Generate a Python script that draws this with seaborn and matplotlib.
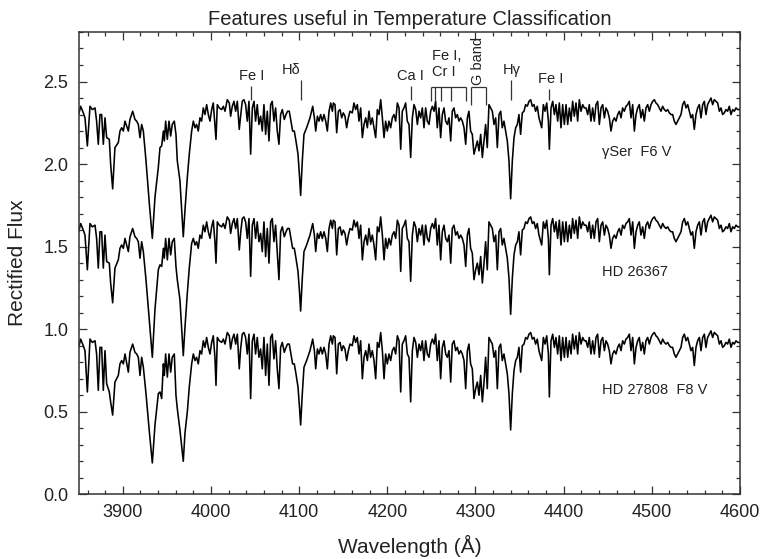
import matplotlib
matplotlib.use('Agg')
import matplotlib.pyplot as plt
from matplotlib.ticker import MultipleLocator, FormatStrFormatter
import seaborn as sns

# 波长 (Å)，三条光谱共用
wavelength = [
    3850.0, 3852.2, 3855.2, 3857.1, 3859.8, 3862.8, 3865.4, 3868.5, 3870.3, 3872.2,
    3874.1, 3876.0, 3877.9, 3879.8, 3881.7, 3884.7, 3886.2, 3888.5, 3891.1, 3894.9,
    3896.8, 3898.7, 3900.6, 3902.5, 3906.3, 3908.1, 3911.2, 3913.8, 3915.7, 3917.6,
    3919.5, 3921.4, 3923.3, 3926.3, 3930.1, 3933.5, 3936.5, 3940.3, 3942.2, 3944.1,
    3946.0, 3947.1, 3948.6, 3950.5, 3952.4, 3954.3, 3956.1, 3958.4, 3960.3, 3961.8,
    3964.8, 3968.6, 3970.5, 3973.2, 3975.4, 3978.1, 3980.0, 3981.9, 3983.7, 3985.6,
    3987.5, 3989.4, 3991.3, 3993.2, 3995.1, 3997.0, 3998.9, 4000.8, 4002.6, 4004.5,
    4005.7, 4007.2, 4009.4, 4012.1, 4014.0, 4015.9, 4018.5, 4020.8, 4022.3, 4024.2,
    4026.1, 4028.0, 4029.9, 4032.1, 4033.6, 4035.5, 4037.4, 4039.3, 4041.2, 4043.1,
    4045.0, 4046.9, 4048.8, 4050.6, 4052.5, 4054.4, 4056.3, 4058.2, 4060.1, 4062.0,
    4063.9, 4065.8, 4067.7, 4069.5, 4071.4, 4073.3, 4075.2, 4077.1, 4079.0, 4080.9,
    4083.2, 4085.1, 4086.9, 4088.8, 4090.7, 4092.6, 4094.5, 4096.4, 4098.7, 4100.5,
    4101.7, 4103.6, 4105.5, 4108.5, 4112.3, 4115.4, 4117.3, 4118.8, 4120.7, 4122.5,
    4124.4, 4126.3, 4128.2, 4130.1, 4132.0, 4133.9, 4135.8, 4137.7, 4138.8, 4140.7,
    4142.6, 4144.5, 4146.4, 4148.3, 4150.1, 4152.0, 4153.9, 4155.8, 4157.7, 4160.3,
    4162.2, 4164.1, 4166.0, 4167.9, 4169.8, 4171.7, 4173.6, 4175.5, 4177.4, 4179.2,
    4181.1, 4183.0, 4184.9, 4186.8, 4188.7, 4190.6, 4192.5, 4194.4, 4196.3, 4198.1,
    4200.0, 4201.9, 4203.8, 4205.7, 4207.6, 4209.5, 4211.4, 4213.3, 4215.2, 4217.0,
    4218.9, 4220.8, 4222.7, 4224.6, 4226.5, 4228.4, 4230.3, 4232.2, 4234.1, 4236.0,
    4237.8, 4239.7, 4241.6, 4243.5, 4245.4, 4247.3, 4249.2, 4251.1, 4253.0, 4254.8,
    4256.7, 4258.6, 4260.5, 4262.4, 4264.3, 4266.2, 4268.1, 4270.0, 4271.9, 4273.7,
    4275.6, 4277.5, 4279.4, 4281.3, 4283.2, 4285.1, 4287.0, 4288.9, 4290.8, 4292.6,
    4294.5, 4296.4, 4298.3, 4300.2, 4302.1, 4304.0, 4305.9, 4307.8, 4309.7, 4311.5,
    4313.4, 4315.3, 4317.2, 4319.1, 4321.0, 4322.9, 4324.8, 4326.7, 4328.6, 4330.4,
    4332.3, 4334.2, 4336.1, 4338.0, 4339.9, 4341.8, 4343.7, 4345.6, 4347.5, 4349.3,
    4351.2, 4353.1, 4355.0, 4356.9, 4358.8, 4360.7, 4362.6, 4364.5, 4366.4, 4368.2,
    4370.1, 4372.0, 4375.1, 4377.0, 4378.9, 4380.8, 4382.7, 4383.8, 4385.7, 4387.6,
    4389.5, 4391.3, 4393.2, 4395.1, 4397.0, 4398.9, 4400.8, 4402.7, 4404.6, 4406.5,
    4408.4, 4410.2, 4412.1, 4414.0, 4415.9, 4417.8, 4419.7, 4421.6, 4423.5, 4425.4,
    4427.3, 4429.1, 4431.0, 4432.9, 4434.8, 4436.7, 4438.6, 4440.5, 4442.4, 4444.3,
    4446.2, 4448.0, 4449.9, 4451.8, 4453.7, 4455.6, 4457.5, 4459.4, 4461.3, 4463.2,
    4465.1, 4466.9, 4468.8, 4470.7, 4472.6, 4474.5, 4476.4, 4478.3, 4480.2, 4482.1,
    4484.0, 4485.8, 4487.7, 4489.6, 4491.5, 4493.4, 4495.3, 4497.2, 4499.1, 4501.0,
    4502.9, 4504.7, 4506.6, 4508.5, 4510.4, 4512.3, 4514.2, 4516.1, 4518.0, 4519.9,
    4521.8, 4523.6, 4525.5, 4527.4, 4529.3, 4531.2, 4533.1, 4535.0, 4536.9, 4538.8,
    4540.7, 4542.5, 4544.4, 4546.3, 4548.2, 4550.1, 4552.0, 4553.9, 4555.8, 4557.7,
    4559.6, 4561.4, 4563.3, 4565.2, 4567.1, 4569.0, 4570.9, 4572.8, 4574.7, 4576.6,
    4578.5, 4580.3, 4582.2, 4584.1, 4586.0, 4587.9, 4589.8, 4591.7, 4593.6, 4595.5,
    4597.4, 4600.0,
]

# gamma Ser  F6 V
flux_gamma_ser = [
    2.30, 2.35, 2.31, 2.28, 2.11, 2.35, 2.33, 2.34, 2.26, 2.12,
    2.30, 2.30, 2.12, 2.28, 2.16, 2.15, 2.00, 1.85, 2.10, 2.13,
    2.20, 2.22, 2.20, 2.26, 2.20, 2.27, 2.32, 2.27, 2.26, 2.24,
    2.16, 2.24, 2.20, 2.02, 1.76, 1.55, 1.80, 1.98, 2.10, 2.11,
    2.20, 2.14, 2.26, 2.15, 2.26, 2.17, 2.24, 2.26, 2.18, 2.02,
    1.90, 1.56, 1.72, 1.92, 2.06, 2.20, 2.26, 2.22, 2.24, 2.20,
    2.28, 2.26, 2.34, 2.30, 2.36, 2.30, 2.26, 2.33, 2.37, 2.24,
    2.15, 2.36, 2.34, 2.33, 2.35, 2.32, 2.39, 2.37, 2.29, 2.35,
    2.38, 2.32, 2.38, 2.21, 2.29, 2.38, 2.39, 2.36, 2.26, 2.38,
    2.06, 2.34, 2.38, 2.26, 2.36, 2.24, 2.29, 2.20, 2.36, 2.18,
    2.32, 2.14, 2.36, 2.38, 2.26, 2.34, 2.20, 2.12, 2.30, 2.33,
    2.27, 2.30, 2.32, 2.32, 2.26, 2.20, 2.20, 2.14, 2.06, 1.92,
    1.81, 2.02, 2.18, 2.22, 2.28, 2.35, 2.28, 2.20, 2.29, 2.26,
    2.30, 2.26, 2.30, 2.26, 2.20, 2.32, 2.37, 2.32, 2.37, 2.36,
    2.19, 2.32, 2.33, 2.28, 2.31, 2.29, 2.22, 2.28, 2.32, 2.31,
    2.37, 2.33, 2.36, 2.26, 2.34, 2.16, 2.24, 2.28, 2.22, 2.32,
    2.24, 2.28, 2.22, 2.16, 2.33, 2.30, 2.39, 2.28, 2.16, 2.26,
    2.20, 2.26, 2.22, 2.28, 2.30, 2.26, 2.37, 2.34, 2.09, 2.32,
    2.34, 2.37, 2.26, 2.24, 2.04, 2.28, 2.36, 2.33, 2.24, 2.32,
    2.28, 2.34, 2.22, 2.34, 2.26, 2.24, 2.32, 2.35, 2.32, 2.38,
    2.22, 2.34, 2.16, 2.30, 2.34, 2.26, 2.24, 2.28, 2.14, 2.32,
    2.34, 2.28, 2.30, 2.26, 2.28, 2.26, 2.22, 2.12, 2.28, 2.32,
    2.20, 2.18, 2.06, 2.10, 2.14, 2.08, 2.18, 2.04, 2.14, 2.24,
    2.10, 2.36, 2.34, 2.32, 2.24, 2.28, 2.10, 2.30, 2.32, 2.22,
    2.26, 2.20, 2.14, 2.02, 1.79, 2.02, 2.16, 2.22, 2.24, 2.30,
    2.18, 2.31, 2.32, 2.36, 2.35, 2.38, 2.39, 2.35, 2.36, 2.32,
    2.35, 2.28, 2.22, 2.36, 2.32, 2.37, 2.26, 2.09, 2.34, 2.38,
    2.30, 2.36, 2.26, 2.37, 2.22, 2.36, 2.24, 2.36, 2.24, 2.34,
    2.26, 2.38, 2.29, 2.37, 2.26, 2.39, 2.32, 2.36, 2.34, 2.34,
    2.30, 2.36, 2.26, 2.34, 2.26, 2.36, 2.38, 2.24, 2.34, 2.36,
    2.28, 2.34, 2.32, 2.28, 2.20, 2.26, 2.28, 2.26, 2.30, 2.32,
    2.28, 2.34, 2.32, 2.35, 2.36, 2.38, 2.28, 2.36, 2.20, 2.30,
    2.34, 2.36, 2.28, 2.33, 2.26, 2.34, 2.36, 2.32, 2.36, 2.38,
    2.39, 2.37, 2.36, 2.34, 2.32, 2.35, 2.33, 2.32, 2.33, 2.31,
    2.30, 2.30, 2.26, 2.24, 2.26, 2.28, 2.30, 2.36, 2.38, 2.34,
    2.36, 2.32, 2.28, 2.30, 2.21, 2.30, 2.34, 2.36, 2.28, 2.36,
    2.38, 2.30, 2.36, 2.38, 2.40, 2.36, 2.39, 2.38, 2.37, 2.32,
    2.34, 2.30, 2.31, 2.33, 2.32, 2.35, 2.30, 2.33, 2.32, 2.34,
    2.33, 2.33,
]

# HD 26367
flux_hd26367 = [
    1.59, 1.64, 1.60, 1.57, 1.36, 1.64, 1.62, 1.63, 1.55, 1.37,
    1.59, 1.59, 1.37, 1.57, 1.41, 1.40, 1.28, 1.16, 1.37, 1.42,
    1.49, 1.51, 1.49, 1.55, 1.47, 1.56, 1.61, 1.56, 1.55, 1.53,
    1.43, 1.53, 1.47, 1.30, 1.05, 0.83, 1.12, 1.36, 1.39, 1.38,
    1.49, 1.43, 1.55, 1.42, 1.55, 1.45, 1.53, 1.55, 1.38, 1.30,
    1.18, 0.84, 1.01, 1.22, 1.37, 1.52, 1.55, 1.51, 1.53, 1.49,
    1.57, 1.55, 1.63, 1.59, 1.65, 1.59, 1.55, 1.62, 1.66, 1.53,
    1.40, 1.65, 1.63, 1.62, 1.64, 1.61, 1.68, 1.66, 1.58, 1.64,
    1.67, 1.61, 1.67, 1.48, 1.58, 1.67, 1.68, 1.65, 1.55, 1.67,
    1.32, 1.63, 1.67, 1.55, 1.65, 1.53, 1.58, 1.47, 1.65, 1.44,
    1.61, 1.40, 1.65, 1.67, 1.53, 1.63, 1.47, 1.30, 1.59, 1.62,
    1.56, 1.59, 1.61, 1.61, 1.55, 1.49, 1.49, 1.43, 1.35, 1.22,
    1.11, 1.31, 1.47, 1.51, 1.57, 1.64, 1.57, 1.47, 1.58, 1.55,
    1.59, 1.55, 1.59, 1.55, 1.47, 1.61, 1.66, 1.61, 1.66, 1.65,
    1.45, 1.61, 1.62, 1.57, 1.60, 1.58, 1.51, 1.57, 1.61, 1.60,
    1.66, 1.62, 1.65, 1.55, 1.63, 1.42, 1.53, 1.57, 1.51, 1.61,
    1.53, 1.57, 1.51, 1.42, 1.62, 1.59, 1.68, 1.57, 1.42, 1.55,
    1.49, 1.55, 1.51, 1.57, 1.59, 1.55, 1.66, 1.63, 1.35, 1.61,
    1.63, 1.66, 1.55, 1.53, 1.29, 1.57, 1.65, 1.62, 1.53, 1.61,
    1.57, 1.63, 1.51, 1.63, 1.55, 1.53, 1.61, 1.64, 1.61, 1.67,
    1.51, 1.63, 1.42, 1.59, 1.63, 1.55, 1.53, 1.57, 1.40, 1.61,
    1.63, 1.57, 1.59, 1.55, 1.57, 1.55, 1.51, 1.38, 1.57, 1.61,
    1.49, 1.46, 1.30, 1.36, 1.40, 1.33, 1.44, 1.28, 1.40, 1.53,
    1.36, 1.65, 1.63, 1.61, 1.53, 1.57, 1.36, 1.59, 1.61, 1.51,
    1.55, 1.49, 1.43, 1.31, 1.09, 1.31, 1.45, 1.51, 1.53, 1.59,
    1.45, 1.60, 1.61, 1.65, 1.64, 1.67, 1.68, 1.64, 1.65, 1.61,
    1.64, 1.57, 1.51, 1.65, 1.61, 1.66, 1.55, 1.33, 1.63, 1.67,
    1.59, 1.65, 1.55, 1.66, 1.51, 1.65, 1.53, 1.65, 1.53, 1.63,
    1.55, 1.67, 1.58, 1.66, 1.55, 1.68, 1.61, 1.65, 1.63, 1.63,
    1.59, 1.65, 1.55, 1.63, 1.55, 1.65, 1.67, 1.53, 1.63, 1.65,
    1.57, 1.63, 1.61, 1.57, 1.49, 1.55, 1.57, 1.55, 1.59, 1.61,
    1.57, 1.63, 1.61, 1.64, 1.65, 1.67, 1.57, 1.65, 1.49, 1.59,
    1.63, 1.65, 1.57, 1.62, 1.55, 1.63, 1.65, 1.61, 1.65, 1.67,
    1.68, 1.66, 1.65, 1.63, 1.61, 1.64, 1.62, 1.61, 1.62, 1.60,
    1.59, 1.59, 1.55, 1.53, 1.55, 1.57, 1.59, 1.65, 1.67, 1.63,
    1.65, 1.61, 1.57, 1.59, 1.49, 1.59, 1.63, 1.65, 1.57, 1.65,
    1.67, 1.59, 1.65, 1.67, 1.69, 1.65, 1.68, 1.67, 1.66, 1.61,
    1.63, 1.59, 1.60, 1.62, 1.61, 1.64, 1.59, 1.62, 1.61, 1.63,
    1.62, 1.62,
]

# HD 27808  F8 V
flux_hd27808 = [
    0.89, 0.94, 0.90, 0.87, 0.62, 0.94, 0.92, 0.93, 0.85, 0.63,
    0.89, 0.89, 0.63, 0.87, 0.67, 0.62, 0.56, 0.48, 0.68, 0.72,
    0.79, 0.81, 0.79, 0.85, 0.74, 0.86, 0.91, 0.86, 0.85, 0.83,
    0.72, 0.83, 0.77, 0.61, 0.38, 0.19, 0.42, 0.61, 0.62, 0.58,
    0.79, 0.72, 0.85, 0.71, 0.85, 0.74, 0.83, 0.85, 0.60, 0.52,
    0.39, 0.20, 0.37, 0.50, 0.65, 0.79, 0.85, 0.81, 0.83, 0.79,
    0.87, 0.85, 0.93, 0.89, 0.95, 0.89, 0.85, 0.92, 0.96, 0.83,
    0.66, 0.95, 0.93, 0.92, 0.94, 0.91, 0.98, 0.96, 0.88, 0.94,
    0.97, 0.91, 0.97, 0.76, 0.88, 0.97, 0.98, 0.95, 0.85, 0.97,
    0.58, 0.93, 0.97, 0.85, 0.95, 0.83, 0.88, 0.76, 0.95, 0.72,
    0.91, 0.66, 0.95, 0.97, 0.82, 0.93, 0.76, 0.64, 0.89, 0.92,
    0.86, 0.89, 0.91, 0.91, 0.85, 0.79, 0.79, 0.73, 0.65, 0.52,
    0.42, 0.61, 0.77, 0.81, 0.87, 0.94, 0.87, 0.76, 0.88, 0.85,
    0.89, 0.85, 0.89, 0.85, 0.76, 0.91, 0.96, 0.91, 0.96, 0.95,
    0.73, 0.91, 0.92, 0.87, 0.90, 0.88, 0.81, 0.87, 0.91, 0.90,
    0.96, 0.92, 0.95, 0.85, 0.93, 0.70, 0.83, 0.87, 0.81, 0.91,
    0.83, 0.87, 0.81, 0.70, 0.92, 0.89, 0.98, 0.87, 0.70, 0.85,
    0.79, 0.85, 0.81, 0.87, 0.89, 0.85, 0.96, 0.93, 0.62, 0.91,
    0.93, 0.96, 0.85, 0.83, 0.56, 0.87, 0.95, 0.92, 0.83, 0.91,
    0.87, 0.93, 0.81, 0.93, 0.85, 0.83, 0.91, 0.94, 0.91, 0.97,
    0.81, 0.93, 0.70, 0.89, 0.93, 0.85, 0.83, 0.87, 0.68, 0.91,
    0.93, 0.87, 0.89, 0.85, 0.87, 0.85, 0.81, 0.64, 0.87, 0.91,
    0.79, 0.76, 0.58, 0.64, 0.68, 0.60, 0.72, 0.56, 0.68, 0.83,
    0.64, 0.95, 0.93, 0.91, 0.83, 0.87, 0.64, 0.89, 0.91, 0.81,
    0.85, 0.79, 0.73, 0.61, 0.39, 0.61, 0.75, 0.81, 0.83, 0.89,
    0.74, 0.90, 0.91, 0.95, 0.94, 0.97, 0.98, 0.94, 0.95, 0.91,
    0.94, 0.87, 0.81, 0.95, 0.91, 0.96, 0.85, 0.59, 0.93, 0.97,
    0.89, 0.95, 0.85, 0.96, 0.81, 0.95, 0.83, 0.95, 0.83, 0.93,
    0.85, 0.97, 0.88, 0.96, 0.85, 0.98, 0.91, 0.95, 0.93, 0.93,
    0.89, 0.95, 0.85, 0.93, 0.85, 0.95, 0.97, 0.83, 0.93, 0.95,
    0.87, 0.93, 0.91, 0.87, 0.79, 0.85, 0.87, 0.85, 0.89, 0.91,
    0.87, 0.93, 0.91, 0.94, 0.95, 0.97, 0.87, 0.95, 0.79, 0.89,
    0.93, 0.95, 0.87, 0.92, 0.85, 0.93, 0.95, 0.91, 0.95, 0.97,
    0.98, 0.96, 0.95, 0.93, 0.91, 0.94, 0.92, 0.91, 0.92, 0.90,
    0.89, 0.89, 0.85, 0.83, 0.85, 0.87, 0.89, 0.95, 0.97, 0.93,
    0.95, 0.91, 0.87, 0.89, 0.78, 0.89, 0.93, 0.95, 0.87, 0.95,
    0.97, 0.89, 0.95, 0.97, 0.99, 0.95, 0.98, 0.97, 0.96, 0.91,
    0.93, 0.89, 0.90, 0.92, 0.91, 0.94, 0.89, 0.92, 0.91, 0.93,
    0.92, 0.92,
]

star_labels = ['\u03b3Ser  F6 V', 'HD 26367', 'HD 27808  F8 V']

# 单条谱线标注
line_labels = ['Fe I', 'H\u03b4', 'Ca I', 'H\u03b3', 'Fe I']
line_waves = [4045.8, 4101.7, 4226.7, 4340.3, 4383.5]
# Fe I / Cr I 线组和 G band
fecr_waves = [4250.1, 4254.3, 4260.5, 4271.8, 4289.0]
gband_range = [4295.0, 4311.5]


sns.set_theme(style='ticks')
plt.rcParams['font.family'] = ['Liberation Sans', 'DejaVu Sans']

fig = plt.figure(figsize=(7.62, 5.59), dpi=100)
ax = fig.add_axes([0.1033, 0.1157, 0.8678, 0.8271])

for flux in (flux_gamma_ser, flux_hd26367, flux_hd27808):
    sns.lineplot(x=wavelength, y=flux, ax=ax, color='black', linewidth=1.15,
                 estimator=None, sort=False, legend=False)

ax.set_xlim(3850, 4600)
ax.set_ylim(0, 2.8)
ax.xaxis.set_major_locator(MultipleLocator(100))
ax.xaxis.set_minor_locator(MultipleLocator(20))
ax.yaxis.set_major_locator(MultipleLocator(0.5))
ax.yaxis.set_minor_locator(MultipleLocator(0.1))
ax.yaxis.set_major_formatter(FormatStrFormatter('%.1f'))

axis_color = '#333333'
ax.tick_params(which='both', direction='in', top=True, right=True,
               color=axis_color, width=0.9, labelsize=13, labelcolor='#222222')
ax.tick_params(which='major', length=5.5)
ax.tick_params(which='minor', length=3.2)
ax.tick_params(axis='x', pad=7)
ax.tick_params(axis='y', pad=7.5)
for sp in ax.spines.values():
    sp.set_color(axis_color)
    sp.set_linewidth(1.1)

ax.set_xlabel('Wavelength (\u00c5)', fontsize=15, labelpad=10, color='#222222')
ax.set_ylabel('Rectified Flux', fontsize=15, labelpad=12, color='#222222')
ax.set_title('Features useful in Temperature Classification', fontsize=14.5,
             pad=5, color='#222222')

# 标注文字与短竖线
txt_kw = dict(fontsize=10.5, color='#222222')
label_x = [4046, 4091, 4226, 4341, 4385]
label_y = [2.51, 2.545, 2.51, 2.547, 2.49]
for lab, w, lx, ly in zip(line_labels, line_waves, label_x, label_y):
    ax.text(lx, ly, lab, ha='center', va='baseline', **txt_kw)
    ax.vlines(w, 2.39, ly - 0.035, color=axis_color, linewidth=0.9)

ax.text(fecr_waves[0] + 1, 2.632, 'Fe I,', ha='left', va='baseline', **txt_kw)
ax.text(fecr_waves[0] + 1, 2.531, 'Cr I', ha='left', va='baseline', **txt_kw)
ax.hlines(2.466, fecr_waves[0], fecr_waves[-1], color=axis_color, linewidth=0.9)
ax.vlines(fecr_waves, 2.385, 2.466, color=axis_color, linewidth=0.9)

ax.hlines(2.466, gband_range[0], gband_range[1], color=axis_color, linewidth=0.9)
ax.vlines(gband_range, 2.355, 2.466, color=axis_color, linewidth=0.9)
ax.text(sum(gband_range) / 2, 2.478, 'G band', rotation=90, ha='center',
        va='bottom', **txt_kw)

# 光谱名称
star_y = [2.05, 1.32, 0.605]
for lab, sy in zip(star_labels, star_y):
    ax.text(4444, sy, lab, ha='left', va='baseline', **txt_kw)

fig.savefig('out.png', dpi=100)
